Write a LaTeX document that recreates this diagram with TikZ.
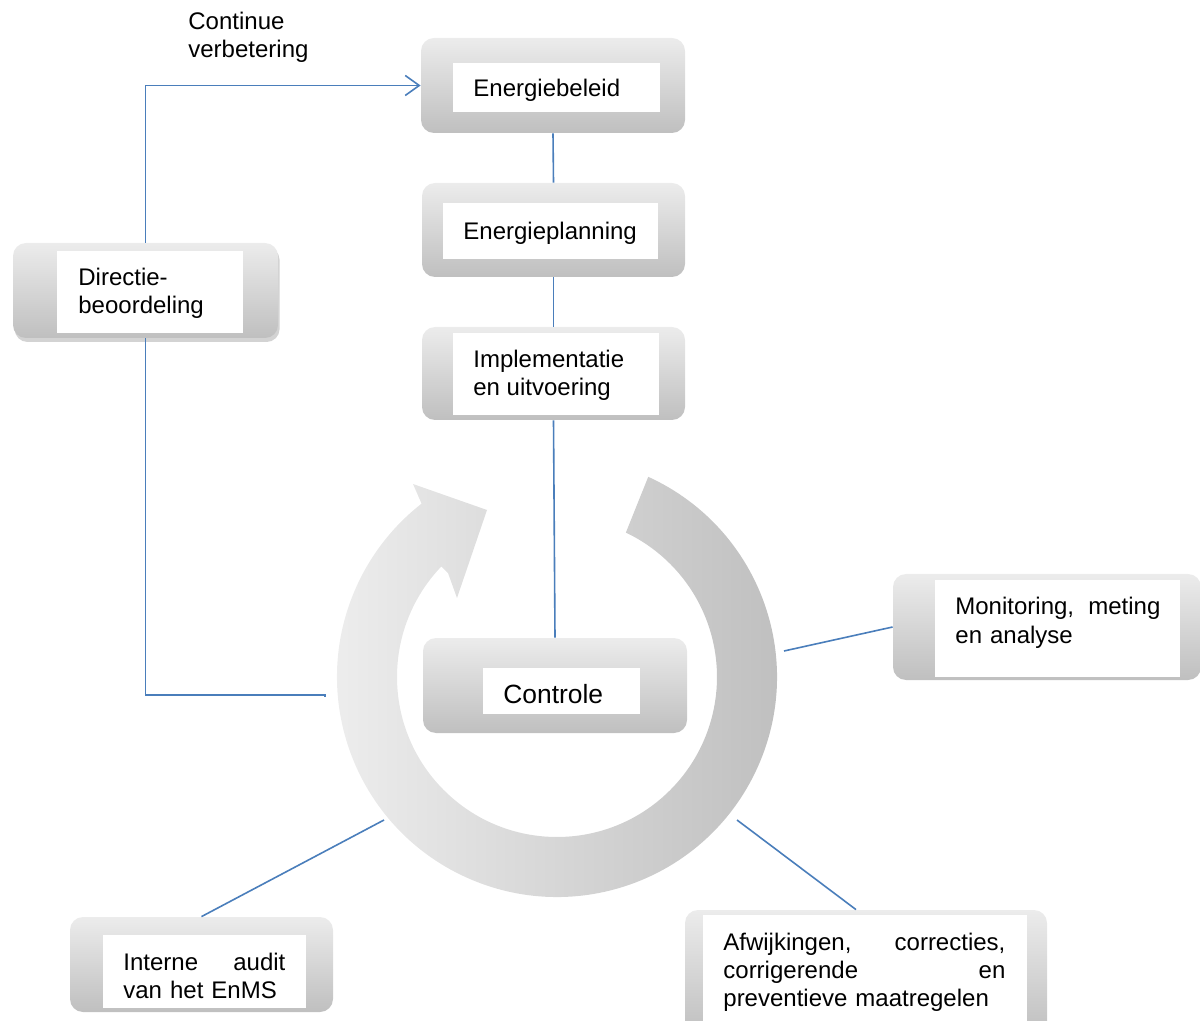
\documentclass[tikz,border=0pt]{standalone}
\usepackage{fontspec}
\setmainfont{Liberation Sans}
\usetikzlibrary{arrows.meta,calc,shadows}
\definecolor{connblue}{RGB}{74,126,187}
\begin{document}
\begin{tikzpicture}[x=0.5pt,y=0.5pt,
  outerbox/.style={rounded corners=6.5pt, top color=gray!15, bottom color=gray!50, draw=none, inner sep=0pt},
  whitebox/.style={fill=white, draw=none, inner sep=0pt},
  txt/.style={inner sep=0pt, anchor=base west, font=\fontsize{12}{14.2}\selectfont, align=left},
  conn/.style={draw=connblue, line width=0.8pt}]
\clip (0,0) rectangle (1200,-1021);

% ring arrow
\coordinate (c) at (557,-677);
\shade[left color=gray!12, right color=gray!52]
  ($(c)+(65.5:220)$) arc[start angle=65.5, end angle=-232, radius=110pt]
  -- (413,-484) -- (487,-510) -- (457,-598) -- (448,-573)
  -- ($(c)+(136.3:160)$) arc[start angle=136.3, end angle=424.5, radius=80pt] -- cycle;

% boxes
\node[outerbox, minimum width=132pt, minimum height=47.5pt] (ebel) at (553,-85.5) {};
\node[whitebox, minimum width=103.5pt, minimum height=24.5pt] (ebelW) at (556.5,-87.5) {};
\node[txt] (ebelT) at (473,-97) {Energiebeleid};

\node[outerbox, minimum width=131.5pt, minimum height=47pt] (eplan) at (553.5,-230) {};
\node[whitebox, minimum width=107.5pt, minimum height=28pt] (eplanW) at (550.5,-231) {};
\node[txt] (eplanT) at (463,-240) {Energieplanning};

\node[outerbox, minimum width=131.5pt, minimum height=46.5pt] (impl) at (553.5,-373.5) {};
\node[whitebox, minimum width=103pt, minimum height=41pt] (implW) at (556,-374) {};
\node[txt] (implT) at (473,-396) {Implementatie\\en uitvoering};

\node[outerbox, minimum width=132.5pt, minimum height=47.5pt,
  drop shadow={shadow xshift=0.8pt, shadow yshift=-2pt, opacity=0.35}] (dir) at (145.5,-290.5) {};
\node[whitebox, minimum width=93pt, minimum height=41pt] (dirW) at (150,-292) {};
\node[txt] (dirT) at (78,-314) {Directie-\\beoordeling};

\node[outerbox, minimum width=132pt, minimum height=47.5pt] (ctrl) at (555,-685.5) {};
\node[whitebox, minimum width=78.5pt, minimum height=23pt] (ctrlW) at (561.5,-691) {};
\node[txt, font=\fontsize{13.2}{16}\selectfont] (ctrlT) at (503,-703) {Controle};

\node[outerbox, minimum width=154pt, minimum height=53pt] (mon) at (1047,-627) {};
\node[whitebox, minimum width=122.5pt, minimum height=48.5pt] (monW) at (1057.5,-628.5) {};
\node[txt, text width=102.5pt] (monT) at (955,-615) {Monitoring,\hfill meting\\en analyse};

\node[outerbox, minimum width=181pt, minimum height=62.5pt] (afw) at (866,-972.5) {};
\node[whitebox, minimum width=162pt, minimum height=57.5pt] (afwW) at (865,-972.5) {};
\node[txt, text width=141pt] (afwT) at (723,-950) {Afwijkingen,\hfill correcties,\\corrigerende\hfill en\\preventieve maatregelen};

\node[outerbox, minimum width=131.5pt, minimum height=47.5pt] (aud) at (201.5,-964.5) {};
\node[whitebox, minimum width=101.5pt, minimum height=36.5pt] (audW) at (204.5,-971.5) {};
\node[txt, text width=81pt] (audT) at (123,-970) {Interne\hfill audit\\van het EnMS};

\node[txt] (contT) at (188,-58) {Continue\\verbetering};

% free ends on the ring
\coordinate (ringL) at (325,-695);
\coordinate (ringR) at (784,-651);
\coordinate (ringBR) at (737,-820);
\coordinate (ringBL) at (384,-820);

% connectors
\draw[conn] (ebel.south) -- (eplan.north);
\draw[conn] (eplan.south) -- (impl.north);
\draw[conn] (impl.south) -- (ctrl.north);
\draw[conn, -{Straight Barb[length=7pt,width=10pt,line width=0.8pt]}] (dir.north) |- (ebel.west);
\draw[conn] (dir.south) |- (ringL) -- ++(0,-2);
\draw[conn] (mon.west) -- (ringR);
\draw[conn] ([xshift=-5pt]afw.north) -- (ringBR);
\draw[conn] (aud.north) -- (ringBL);
\end{tikzpicture}
\end{document}
